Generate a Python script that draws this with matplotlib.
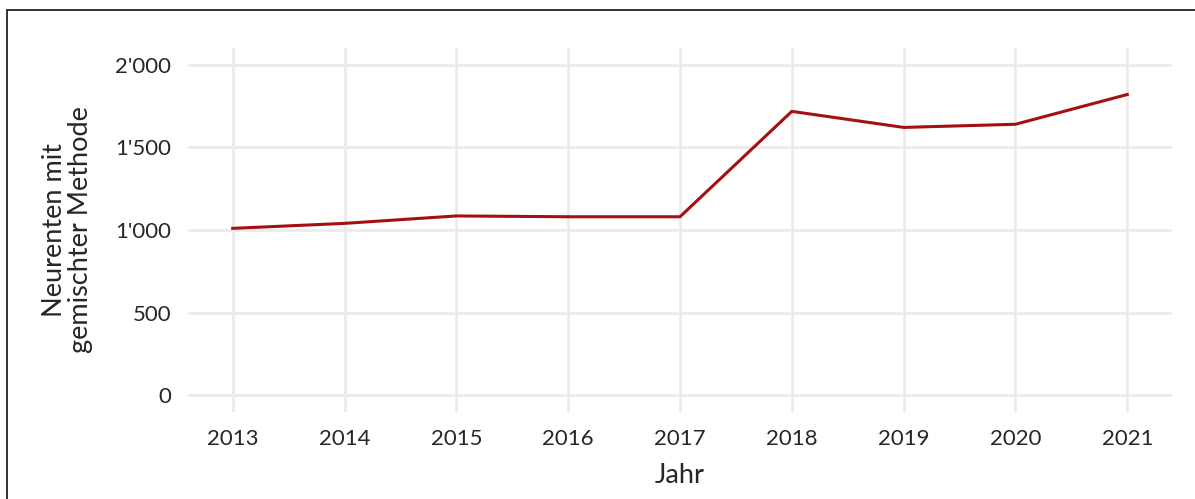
import matplotlib.pyplot as plt
from matplotlib.ticker import FuncFormatter
from matplotlib.patches import Rectangle

# data
jahre = [2013, 2014, 2015, 2016, 2017, 2018, 2019, 2020, 2021]
neurenten = [1010, 1040, 1085, 1080, 1080, 1717, 1620, 1639, 1819]
y_ticks = [0, 500, 1000, 1500, 2000]

plt.rcParams['font.family'] = ['Lato', 'DejaVu Sans']
txt = '#262626'

fig = plt.figure(figsize=(11.95, 4.99), dpi=100)
ax = fig.add_axes([188 / 1195, 1 - 412 / 499, (1172 - 188) / 1195, (412 - 48) / 499])

ax.plot(jahre, neurenten, color='#a50f0f', linewidth=2.2, zorder=3)

ax.set_xlim(2012.6, 2021.4)
ax.set_ylim(-100, 2100)
ax.set_xticks(jahre)
ax.set_yticks(y_ticks)
ax.yaxis.set_major_formatter(FuncFormatter(lambda v, p: f"{int(v):,}".replace(",", "'")))

ax.grid(True, color='#ebebeb', linewidth=2)
ax.set_axisbelow(True)
for s in ax.spines.values():
    s.set_visible(False)
ax.tick_params(length=0, labelsize=16, labelcolor=txt, pad=12)

ax.set_xlabel('Jahr', fontsize=19.5, color=txt, labelpad=10)
ax.set_ylabel('Neurenten mit\ngemischter Methode', fontsize=19.5, color=txt,
              labelpad=16, linespacing=1.05)

# frame seen on top and left edge of the picture
fig.patches.append(Rectangle((7 / 1195, -0.1), 1.2, 1 - 10 / 499 + 0.1,
                             transform=fig.transFigure, fill=False,
                             edgecolor='#222222', linewidth=1.3))

fig.savefig('out.png', dpi=100)
